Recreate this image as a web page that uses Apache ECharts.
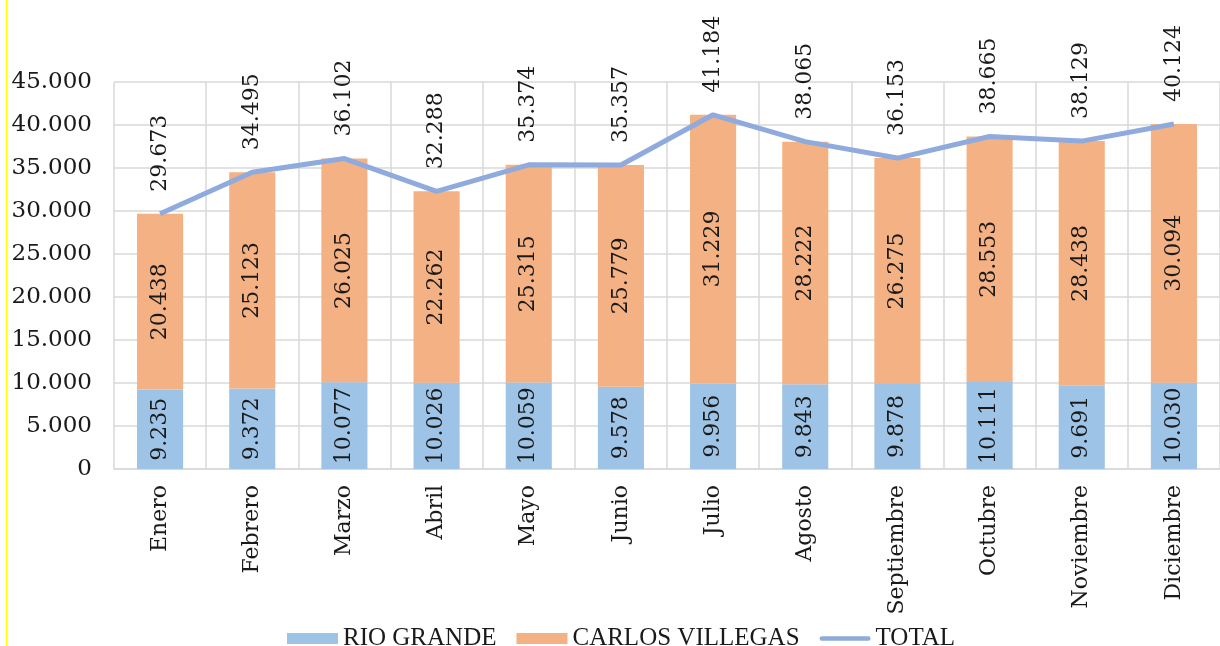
<!DOCTYPE html>
<html>
<head>
<meta charset="utf-8">
<script src="https://cdn.jsdelivr.net/npm/echarts@6/dist/echarts.min.js"></script>
<style>
  html, body { margin: 0; padding: 0; background: #fff; }
  #chart { width: 1220px; height: 646px; }
</style>
</head>
<body>
<div id="chart"></div>
<script>
var months = ['Enero', 'Febrero', 'Marzo', 'Abril', 'Mayo', 'Junio', 'Julio', 'Agosto', 'Septiembre', 'Octubre', 'Noviembre', 'Diciembre'];
var rioGrande = [9235, 9372, 10077, 10026, 10059, 9578, 9956, 9843, 9878, 10111, 9691, 10030];
var carlosVillegas = [20438, 25123, 26025, 22262, 25315, 25779, 31229, 28222, 26275, 28553, 28438, 30094];
var total = [29673, 34495, 36102, 32288, 35374, 35357, 41184, 38065, 36153, 38665, 38129, 40124];

// miles con punto
function fmt(v) {
    return String(v).replace(/\B(?=(\d{3})+(?!\d))/g, '.');
}

var numFont = 'DejaVu Serif';
var myChart = echarts.init(document.getElementById('chart'));

var option = {
    backgroundColor: '#fff',
    animation: false,
    grid: { left: 114, right: 0, top: 82, bottom: 177 },
    legend: {
        left: 282, top: 621,
        itemWidth: 51, itemHeight: 11, itemGap: 20,
        textStyle: { fontFamily: 'Liberation Serif', fontSize: 25, color: '#1a1a1a' },
        data: [
            { name: 'RIO GRANDE', icon: 'rect' },
            { name: 'CARLOS VILLEGAS', icon: 'rect' },
            { name: 'TOTAL', icon: 'path://M2.5,0 L52.5,0 A2.5,2.5 0 0 1 52.5,5 L2.5,5 A2.5,2.5 0 0 1 2.5,0 Z' }
        ]
    },
    xAxis: {
        type: 'category', data: months,
        axisLine: { show: true, lineStyle: { color: '#d9d9d9', width: 1.5 } },
        axisTick: { show: false },
        splitLine: { show: true, interval: 0, lineStyle: { color: '#d9d9d9', width: 1.5 } },
        axisLabel: { rotate: 90, interval: 0, margin: 16, fontFamily: numFont, fontSize: 22, color: '#1a1a1a' }
    },
    yAxis: {
        type: 'value', min: 0, max: 45000, interval: 5000,
        axisLine: { show: false }, axisTick: { show: false },
        splitLine: { lineStyle: { color: '#d9d9d9', width: 1.5 } },
        axisLabel: { margin: 22, fontFamily: numFont, fontSize: 23, color: '#1a1a1a', formatter: fmt }
    },
    series: [
        {
            name: 'RIO GRANDE', type: 'bar', stack: 'a', barWidth: '50%',
            itemStyle: { color: '#9dc3e6' },
            label: { show: true, position: 'inside', rotate: 90, fontFamily: numFont, fontSize: 22, color: '#1a1a1a',
                formatter: function (p) { return fmt(p.value); } },
            data: rioGrande
        },
        {
            name: 'CARLOS VILLEGAS', type: 'bar', stack: 'a', barWidth: '50%',
            itemStyle: { color: '#f4b183' },
            label: { show: true, position: 'inside', rotate: 90, fontFamily: numFont, fontSize: 22, color: '#1a1a1a',
                formatter: function (p) { return fmt(p.value); } },
            data: carlosVillegas
        },
        {
            name: 'TOTAL', type: 'line', symbol: 'none', z: 5,
            lineStyle: { color: '#8faadc', width: 5 },
            itemStyle: { color: '#8faadc' },
            data: total
        },
        {
            // etiquetas verticales del total, encima de cada punto
            name: 'TOTAL_LABELS', type: 'custom', z: 6, silent: true,
            data: total.map(function (v, i) { return [i, v]; }),
            renderItem: function (params, api) {
                var pt = api.coord([api.value(0), api.value(1)]);
                return {
                    type: 'text', x: pt[0], y: pt[1] - 22, rotation: Math.PI / 2,
                    style: {
                        text: fmt(api.value(1)), x: 0, y: 0, align: 'left', verticalAlign: 'middle',
                        font: '22px "DejaVu Serif"', fill: '#1a1a1a'
                    }
                };
            }
        }
    ],
    graphic: [{
        type: 'line', shape: { x1: 6.5, y1: 0, x2: 6.5, y2: 646 },
        style: { stroke: '#ffff00', lineWidth: 1.5 }
    }]
};

myChart.setOption(option);
</script>
</body>
</html>
